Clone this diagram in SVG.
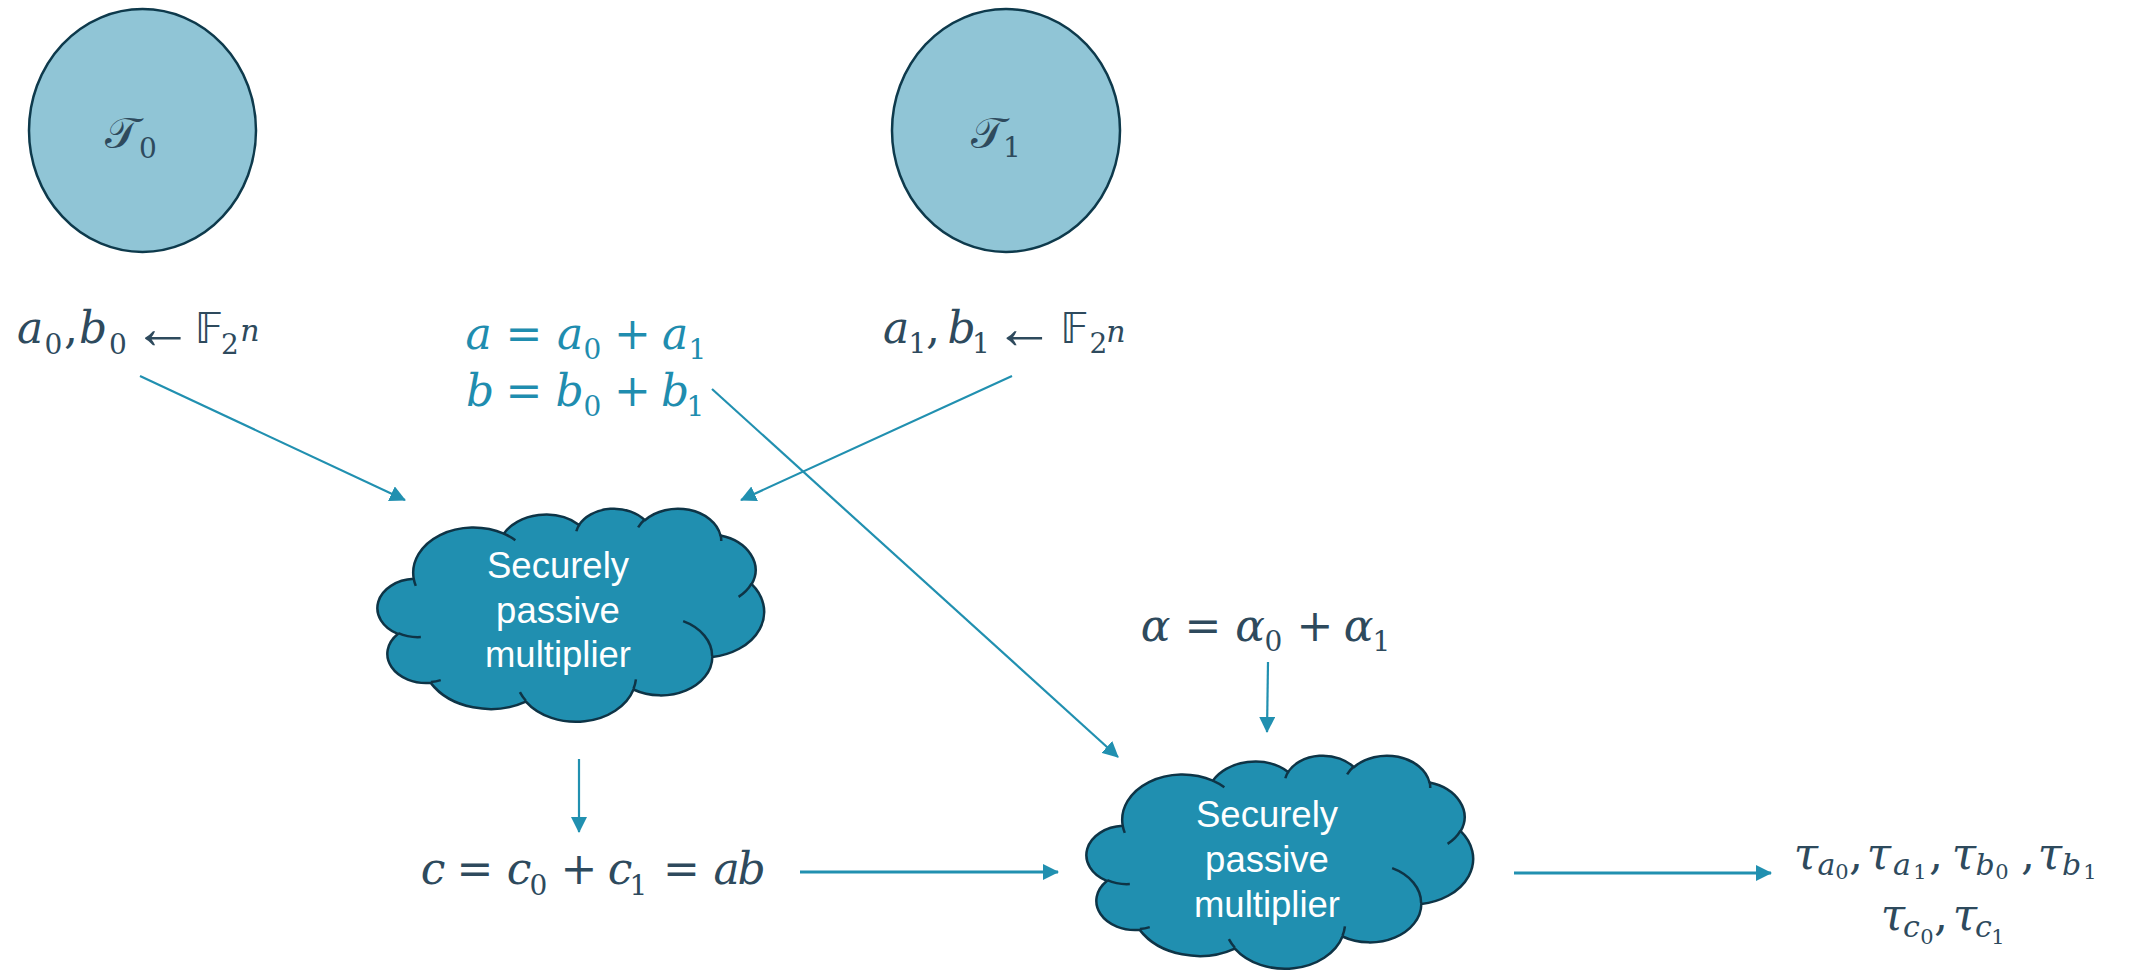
<svg xmlns="http://www.w3.org/2000/svg" width="2131" height="971" viewBox="0 0 2131 971">
  <style>
    .party { fill: #90C5D6; stroke: #0E3A4C; stroke-width: 2.5; }
    .cloud { fill: #208FB0; stroke: #0E3446; stroke-width: 2.5; vector-effect: non-scaling-stroke; stroke-linejoin: round; }
    .crease { fill: none; stroke: #0E3446; stroke-width: 2.5; vector-effect: non-scaling-stroke; }
    .conn { stroke: #2190B0; stroke-width: 2.2; fill: none; }
    .conn.thick { stroke-width: 3; }
    .label { font-family: "Liberation Sans", Arial, sans-serif; font-size: 36.5px; fill: #FFFFFF; text-anchor: middle; }
    .math { font-family: "DejaVu Serif", "Liberation Serif", serif; font-style: italic; font-size: 44px; text-anchor: middle; }
    .dark { fill: #2E4A5D; }
    .teal { fill: #1F8DAF; }
    .sub { font-style: normal; font-size: 28px; }
    .subl { font-size: 30px; }
    .subsub { font-style: normal; font-size: 21px; }
    .op { font-style: normal; font-size: 44px; }
    .arr { font-family: "Liberation Serif", "DejaVu Sans", serif; font-style: normal; font-size: 60px; }
    .bb { font-family: "DejaVu Sans", "DejaVu Serif", "Noto Sans", sans-serif; font-style: normal; font-size: 42px; }
    .scr { font-family: "DejaVu Sans", "DejaVu Serif", "Noto Sans", serif; font-style: normal; font-size: 44px; }
  </style>
  <defs>
    <marker id="ah" markerUnits="userSpaceOnUse" markerWidth="16" markerHeight="16" refX="15" refY="8" orient="auto">
      <path d="M0,0 L16,8 L0,16 Z" fill="#2190B0"/>
    </marker>
  </defs>

  <!-- parties -->
  <g id="party-t0">
    <ellipse class="party" cx="142.5" cy="130.5" rx="113.5" ry="121.5"/>
    <text class="math dark"><tspan class="scr" x="122" y="148">𝒯</tspan><tspan class="sub" x="148" y="158">0</tspan></text>
  </g>
  <g id="party-t1">
    <ellipse class="party" cx="1006" cy="130.5" rx="114" ry="121.5"/>
    <text class="math dark"><tspan class="scr" x="988" y="148">𝒯</tspan><tspan class="sub" x="1012" y="157">1</tspan></text>
  </g>

  <!-- shares and values -->
  <g id="shares-t0">
    <text class="math dark"><tspan x="30" y="343">a</tspan><tspan class="sub" x="53.5" y="354">0</tspan><tspan class="op" x="71" y="343">,</tspan><tspan x="93" y="343">b</tspan><tspan class="sub" x="118" y="354">0</tspan><tspan class="arr" x="163" y="348">←</tspan><tspan class="bb" x="209" y="343">𝔽</tspan><tspan class="sub" x="230" y="354">2</tspan><tspan class="subl" x="250" y="341">n</tspan></text>
  </g>
  <g id="shares-t1">
    <text class="math dark"><tspan x="896" y="343">a</tspan><tspan class="sub" x="917.5" y="353">1</tspan><tspan class="op" x="933" y="343">,</tspan><tspan x="961.5" y="343">b</tspan><tspan class="sub" x="981" y="353">1</tspan><tspan class="arr" x="1024.5" y="348">←</tspan><tspan class="bb" x="1074.5" y="343">𝔽</tspan><tspan class="sub" x="1098.5" y="353">2</tspan><tspan class="subl" x="1116" y="342">n</tspan></text>
  </g>
  <g id="inputs-ab">
    <text class="math teal"><tspan x="478.5" y="349">a</tspan><tspan class="op" x="524" y="349">=</tspan><tspan x="570" y="349">a</tspan><tspan class="sub" x="592.5" y="359">0</tspan><tspan class="op" x="632.5" y="349">+</tspan><tspan x="675" y="349">a</tspan><tspan class="sub" x="697.5" y="359">1</tspan></text>
    <text class="math teal"><tspan x="480" y="406">b</tspan><tspan class="op" x="524" y="406">=</tspan><tspan x="569.5" y="406">b</tspan><tspan class="sub" x="592.5" y="416">0</tspan><tspan class="op" x="632.5" y="406">+</tspan><tspan x="675" y="406">b</tspan><tspan class="sub" x="695.5" y="416">1</tspan></text>
  </g>
  <g id="mac-key">
    <text class="math dark"><tspan x="1155.5" y="641">α</tspan><tspan class="op" x="1203" y="641">=</tspan><tspan x="1250" y="641">α</tspan><tspan class="sub" x="1273.5" y="651">0</tspan><tspan class="op" x="1315" y="641">+</tspan><tspan x="1358.5" y="641">α</tspan><tspan class="sub" x="1381.5" y="651">1</tspan></text>
  </g>
  <g id="product-c">
    <text class="math dark"><tspan x="433" y="884">c</tspan><tspan class="op" x="475" y="884">=</tspan><tspan x="519" y="884">c</tspan><tspan class="sub" x="538.5" y="895">0</tspan><tspan class="op" x="579" y="884">+</tspan><tspan x="620" y="884">c</tspan><tspan class="sub" x="638.5" y="895">1</tspan><tspan class="op" x="681.5" y="884">=</tspan><tspan x="726.5" y="884">a</tspan><tspan x="751.5" y="884">b</tspan></text>
  </g>
  <g id="mac-tags">
    <text class="math dark"><tspan x="1806" y="869">τ</tspan><tspan class="subl" x="1826.5" y="875">a</tspan><tspan class="subsub" x="1842" y="879">0</tspan><tspan class="op" x="1856" y="869">,</tspan><tspan x="1879" y="869">τ</tspan><tspan class="subl" x="1902" y="875">a</tspan><tspan class="subsub" x="1920" y="879">1</tspan><tspan class="op" x="1936" y="869">,</tspan><tspan x="1964" y="869">τ</tspan><tspan class="subl" x="1985" y="875">b</tspan><tspan class="subsub" x="2002" y="879">0</tspan><tspan class="op" x="2028" y="869">,</tspan><tspan x="2050" y="869">τ</tspan><tspan class="subl" x="2071.5" y="875">b</tspan><tspan class="subsub" x="2090" y="879">1</tspan></text>
    <text class="math dark"><tspan x="1893" y="930">τ</tspan><tspan class="subl" x="1911.5" y="937">c</tspan><tspan class="subsub" x="1927" y="944">0</tspan><tspan class="op" x="1941" y="930">,</tspan><tspan x="1965" y="930">τ</tspan><tspan class="subl" x="1983.5" y="937">c</tspan><tspan class="subsub" x="1998" y="944">1</tspan></text>
  </g>

  <!-- multipliers -->
  <g id="multiplier-1">
    <g transform="translate(379,508) scale(0.0089120,0.0049306)">
      <path class="cloud" d="M3900 14370 A6753 9190 0 0 1 14005 5202 A5333 7267 0 0 1 22456 3430 A4365 5945 0 0 1 29833 2479 A4857 6595 0 0 1 38318 5574 A5333 7273 0 0 1 41818 15458 A6775 9220 0 0 1 37404 30201 A5785 7867 0 0 1 28556 36811 A6752 9215 0 0 1 16480 39262 A7720 10543 0 0 1 5804 35468 A4360 5918 0 0 1 2113 25546 A4345 5945 0 0 1 3900 14370 Z"/>
      <path class="crease" d="M4693 26177 A4345 5945 0 0 1 2160 25380 M6928 34899 A4360 5918 0 0 1 5820 35280 M16478 39090 A6752 9215 0 0 1 15810 37350 M28827 34751 A6752 9215 0 0 1 28560 36660 M34129 22954 A5785 7867 0 0 1 37380 30089 M41798 15354 A5333 7273 0 0 1 40350 18030 M38324 5426 A4857 6595 0 0 1 38400 6690 M29078 3952 A4857 6595 0 0 1 29820 2340 M22141 4720 A4365 5945 0 0 1 22500 3330 M14000 5192 A6753 9190 0 0 1 15300 6540 M4127 15789 A6753 9190 0 0 1 3900 14370"/>
    </g>
    <text class="label"><tspan x="558" y="578">Securely</tspan><tspan x="558" y="623">passive</tspan><tspan x="558" y="667">multiplier</tspan></text>
  </g>
  <g id="multiplier-2">
    <g transform="translate(1088,755) scale(0.0089120,0.0049306)">
      <path class="cloud" d="M3900 14370 A6753 9190 0 0 1 14005 5202 A5333 7267 0 0 1 22456 3430 A4365 5945 0 0 1 29833 2479 A4857 6595 0 0 1 38318 5574 A5333 7273 0 0 1 41818 15458 A6775 9220 0 0 1 37404 30201 A5785 7867 0 0 1 28556 36811 A6752 9215 0 0 1 16480 39262 A7720 10543 0 0 1 5804 35468 A4360 5918 0 0 1 2113 25546 A4345 5945 0 0 1 3900 14370 Z"/>
      <path class="crease" d="M4693 26177 A4345 5945 0 0 1 2160 25380 M6928 34899 A4360 5918 0 0 1 5820 35280 M16478 39090 A6752 9215 0 0 1 15810 37350 M28827 34751 A6752 9215 0 0 1 28560 36660 M34129 22954 A5785 7867 0 0 1 37380 30089 M41798 15354 A5333 7273 0 0 1 40350 18030 M38324 5426 A4857 6595 0 0 1 38400 6690 M29078 3952 A4857 6595 0 0 1 29820 2340 M22141 4720 A4365 5945 0 0 1 22500 3330 M14000 5192 A6753 9190 0 0 1 15300 6540 M4127 15789 A6753 9190 0 0 1 3900 14370"/>
    </g>
    <text class="label"><tspan x="1267" y="827">Securely</tspan><tspan x="1267" y="872">passive</tspan><tspan x="1267" y="917">multiplier</tspan></text>
  </g>

  <!-- connectors -->
  <g id="connectors">
    <line class="conn" x1="140" y1="376" x2="405" y2="500" marker-end="url(#ah)"/>
    <line class="conn" x1="1012" y1="376" x2="741" y2="500" marker-end="url(#ah)"/>
    <line class="conn" x1="712" y1="389" x2="1118" y2="757" marker-end="url(#ah)"/>
    <line class="conn" x1="579" y1="759" x2="579" y2="832" marker-end="url(#ah)"/>
    <line class="conn" x1="1268" y1="662" x2="1267" y2="732" marker-end="url(#ah)"/>
    <line class="conn thick" x1="800" y1="872" x2="1058" y2="872" marker-end="url(#ah)"/>
    <line class="conn thick" x1="1514" y1="873" x2="1771" y2="873" marker-end="url(#ah)"/>
  </g>
</svg>
